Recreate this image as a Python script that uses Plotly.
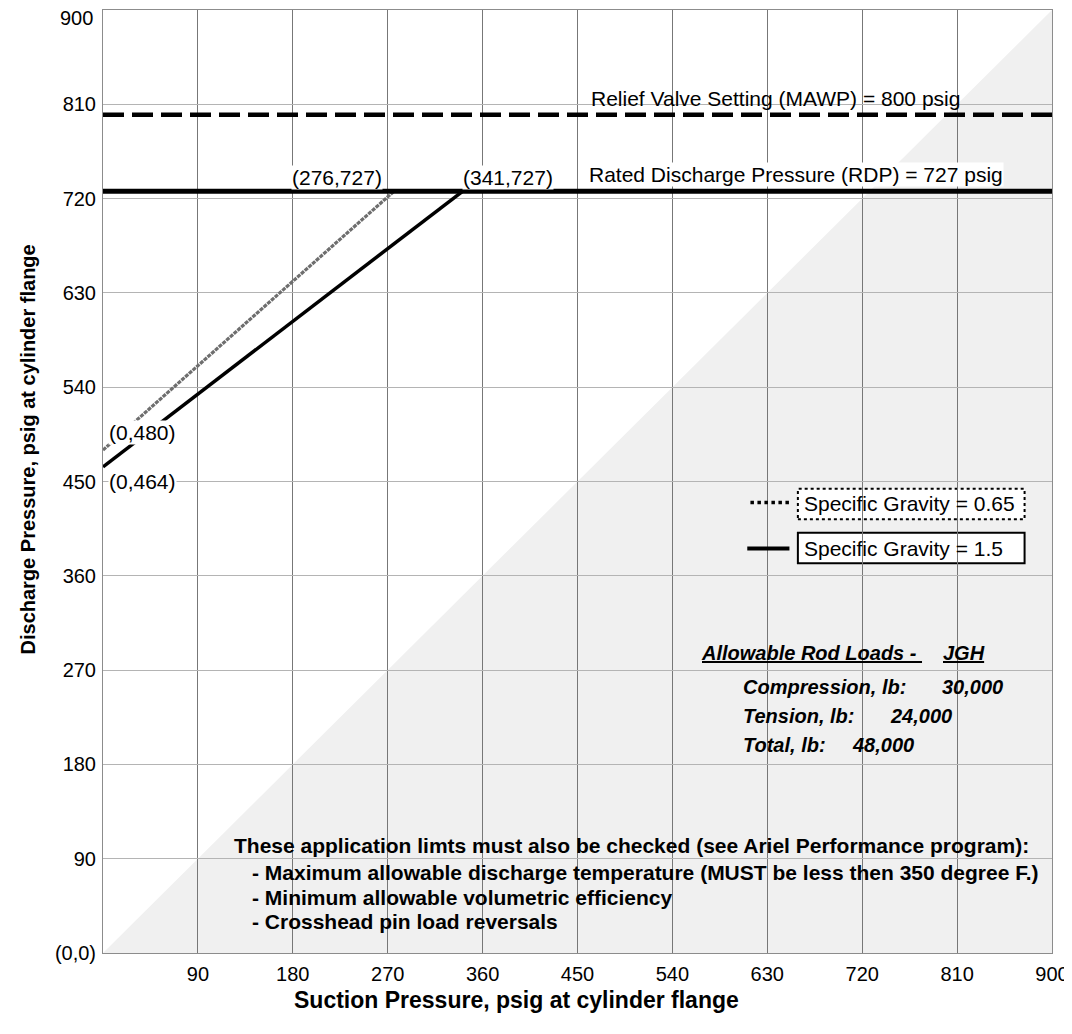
import plotly.graph_objects as go

# ---------------- data ----------------
axis_max = 900
tick_vals = [0, 90, 180, 270, 360, 450, 540, 630, 720, 810, 900]
x_tick_text = ["", "90", "180", "270", "360", "450", "540", "630", "720", "810", "900"]
y_tick_text = ["(0,0)", "90", "180", "270", "360", "450", "540", "630", "720", "810", ""]
y_top_label = "900"

# specific gravity lines (suction, discharge)
sg065_x = [0, 276]
sg065_y = [480, 727]
sg15_x = [0, 341]
sg15_y = [464, 727]

rdp_value = 727     # rated discharge pressure
mawp_value = 800    # relief valve setting

# shaded region (discharge < suction)
shade_x = [0, 900, 900]
shade_y = [0, 0, 900]

FONT = "Arial, 'Liberation Sans', sans-serif"

fig = go.Figure()

# main lines
fig.add_trace(go.Scatter(x=[0, axis_max], y=[mawp_value, mawp_value], mode="lines",
                         line=dict(color="black", width=4.5, dash="21px,8px"),
                         hoverinfo="skip", showlegend=False))
fig.add_trace(go.Scatter(x=sg065_x, y=sg065_y, mode="lines",
                         line=dict(color="#6e6e6e", width=3.2, dash="4px,1px"),
                         hoverinfo="skip", showlegend=False))
fig.add_trace(go.Scatter(x=sg15_x, y=sg15_y, mode="lines",
                         line=dict(color="black", width=3.5),
                         hoverinfo="skip", showlegend=False))
fig.add_trace(go.Scatter(x=[0, axis_max], y=[rdp_value, rdp_value], mode="lines",
                         line=dict(color="black", width=5),
                         hoverinfo="skip", showlegend=False))

shapes = []
# shaded triangle below gridlines
path = "M " + " L ".join(f"{a},{b}" for a, b in zip(shade_x, shade_y)) + " Z"
shapes.append(dict(type="path", path=path, xref="x", yref="y", layer="below",
                   fillcolor="#f0f0f0", line=dict(width=0)))

# custom legend
leg_box_x = [659, 874]
leg1_y = [414, 443]
leg2_y = [372, 401]
shapes.append(dict(type="rect", xref="x", yref="y", layer="below",
                   x0=leg_box_x[0], x1=leg_box_x[1], y0=leg1_y[0], y1=leg1_y[1],
                   fillcolor="white", line=dict(color="black", width=2, dash="dot")))
shapes.append(dict(type="rect", xref="x", yref="y", layer="below",
                   x0=leg_box_x[0], x1=leg_box_x[1], y0=leg2_y[0], y1=leg2_y[1],
                   fillcolor="white", line=dict(color="black", width=2)))
shapes.append(dict(type="line", xref="x", yref="y", layer="above",
                   x0=614, x1=651, y0=430, y1=430,
                   line=dict(color="black", width=3.5, dash="dot")))
shapes.append(dict(type="line", xref="x", yref="y", layer="above",
                   x0=611, x1=651, y0=386, y1=386,
                   line=dict(color="black", width=4)))

ann = []
def label(text, x, y, size=21, bg=None, bold=False, italic=False, xanchor="left"):
    t = text
    if bold:
        t = f"<b>{t}</b>"
    if italic:
        t = f"<i>{t}</i>"
    d = dict(text=t, x=x, y=y, xref="x", yref="y", xanchor=xanchor, yanchor="middle",
             showarrow=False, font=dict(family=FONT, size=size, color="black"),
             borderpad=0)
    if bg:
        d["bgcolor"] = bg
    ann.append(d)

label("Relief Valve Setting (MAWP) = 800 psig", 462, 816)
label("Rated Discharge Pressure (RDP) = 727 psig", 460, 743, bg="white")
label("(276,727)", 178, 740, bg="white")
label("(341,727)", 340, 740, bg="white")
label("(0,480)", 5, 497, bg="white")
label("(0,464)", 5, 450, bg="white")
label("Specific Gravity = 0.65", 664, 429)
label("Specific Gravity = 1.5", 664, 386)

label("<u>Allowable Rod Loads - </u>", 566, 286, size=20, bold=True, italic=True)
label("<u>JGH</u>", 796, 286, size=20, bold=True, italic=True)
label("Compression, lb:", 606, 254, size=20, bold=True, italic=True)
label("30,000", 795, 254, size=20, bold=True, italic=True)
label("Tension, lb:", 606, 226, size=20, bold=True, italic=True)
label("24,000", 745, 226, size=20, bold=True, italic=True)
label("Total, lb:", 606, 198.5, size=20, bold=True, italic=True)
label("48,000", 709, 198.5, size=20, bold=True, italic=True)

label("These application limts must also be checked (see Ariel Performance program):", 123, 103, size=21, bold=True)
label("- Maximum allowable discharge temperature (MUST be less then 350 degree F.)", 140, 77.3, size=21, bold=True)
label("- Minimum allowable volumetric efficiency", 140, 53.4, size=21, bold=True)
label("- Crosshead pin load reversals", 140, 29.6, size=21, bold=True)

# top y tick label (kept inside the frame as in the reference)
ann.append(dict(text=y_top_label, x=0, y=1, xref="paper", yref="paper", xshift=-8, yshift=-8,
                xanchor="right", yanchor="middle", showarrow=False,
                font=dict(family=FONT, size=20, color="black")))

# axis titles
ann.append(dict(text="<b>Discharge Pressure, psig at cylinder flange</b>", x=-0.079, y=0.534,
                xref="paper", yref="paper", textangle=-90, showarrow=False,
                xanchor="center", yanchor="middle",
                font=dict(family=FONT, size=20, color="black")))
ann.append(dict(text="<b>Suction Pressure, psig at cylinder flange</b>", x=0.436, y=-0.05,
                xref="paper", yref="paper", showarrow=False,
                xanchor="center", yanchor="middle",
                font=dict(family=FONT, size=23, color="black")))

fig.update_layout(
    width=1064, height=1018,
    margin=dict(l=95, r=20, t=2, b=73, autoexpand=False),
    paper_bgcolor="white", plot_bgcolor="white",
    shapes=shapes, annotations=ann,
    showlegend=False,
    font=dict(family=FONT, size=19, color="black"),
)
fig.update_xaxes(range=[0, axis_max], tickvals=tick_vals, ticktext=x_tick_text,
                 showgrid=True, gridcolor="#777777", gridwidth=1,
                 showline=True, mirror=True, linecolor="#8c8c8c", linewidth=1,
                 zeroline=False, ticks="", ticklabelstandoff=3, automargin=False,
                 tickfont=dict(family=FONT, size=20, color="black"))
fig.update_yaxes(range=[0, axis_max], tickvals=tick_vals, ticktext=y_tick_text,
                 showgrid=True, gridcolor="#b4b4b4", gridwidth=1,
                 showline=True, mirror=True, linecolor="#8c8c8c", linewidth=1,
                 zeroline=False, ticks="", ticklabelstandoff=2, automargin=False,
                 tickfont=dict(family=FONT, size=20, color="black"))

fig.write_html("out.html")
